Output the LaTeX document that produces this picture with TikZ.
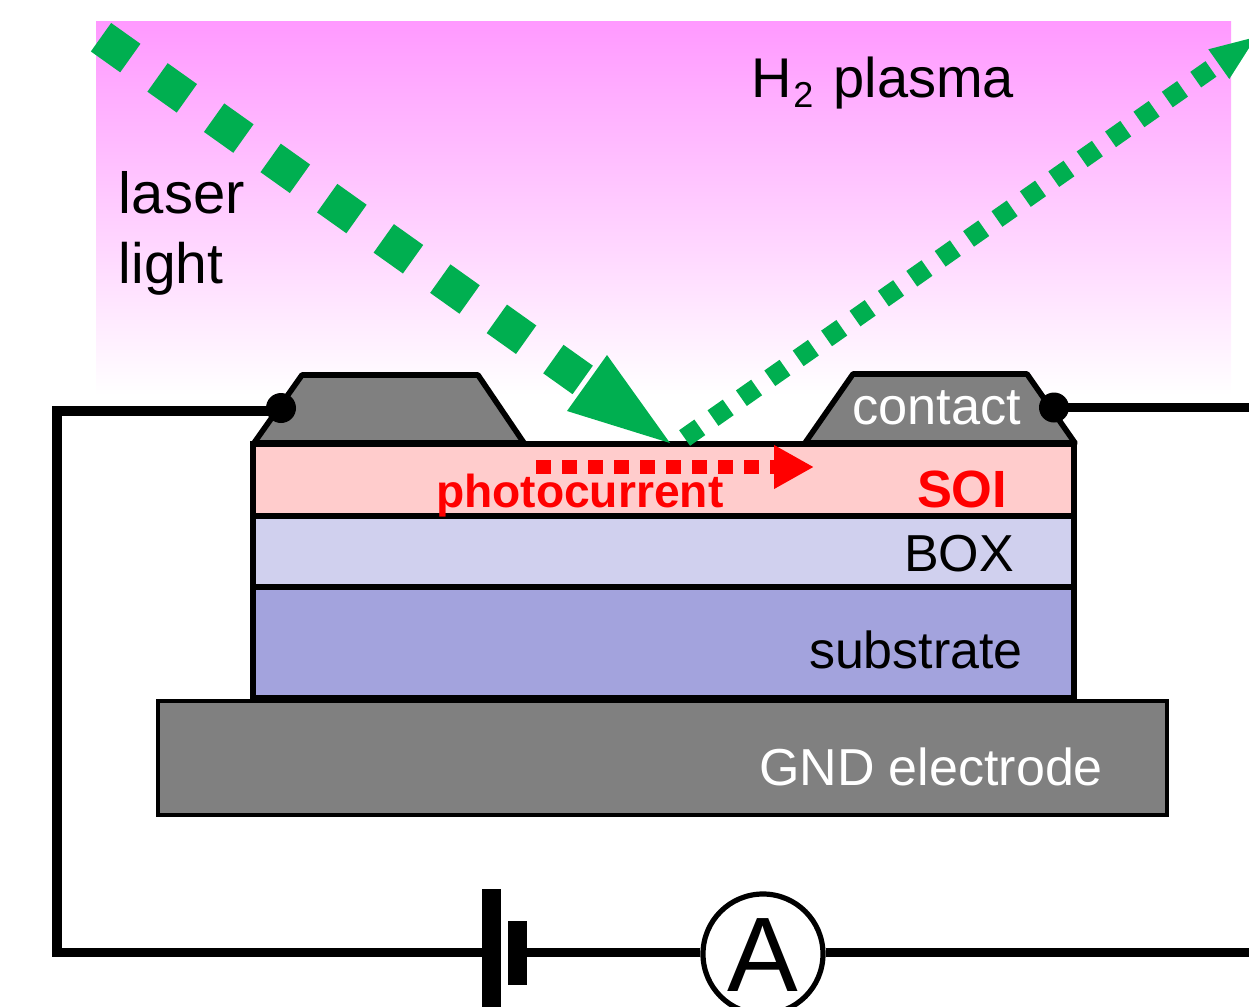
\documentclass[tikz,border=0pt]{standalone}
\usepackage{fontspec}
\setmainfont{Liberation Sans}
\usetikzlibrary{arrows.meta}
\definecolor{beam}{HTML}{00AF50}
\definecolor{plasmatop}{HTML}{FF99FF}
\definecolor{soicol}{HTML}{FFCCCC}
\definecolor{boxcol}{HTML}{D0D0EE}
\definecolor{subcol}{HTML}{A3A3DD}
\definecolor{metal}{HTML}{808080}
\pgfdeclareverticalshading{plasmashade}{100bp}{color(0bp)=(white);color(25bp)=(white);color(75bp)=(plasmatop);color(100bp)=(plasmatop)}
\newcommand{\fs}[1]{\fontsize{#1}{#1}\selectfont}
\tikzset{
  lbl/.style={anchor=base west,inner sep=0pt,outer sep=0pt},
  layer/.style={draw=black,line width=2.6pt,line join=miter},
  contactpad/.style={draw=black,fill=metal,line width=2.8pt,line join=round},
  wire/.style={draw=black,line width=4.6pt,line join=miter},
  pin/.style={circle,fill=black,inner sep=0pt,minimum size=15pt},
  plate/.style={fill=black,inner sep=0pt,outer sep=0pt},
  meter/.style={circle,draw=black,fill=white,line width=2.6pt,inner sep=0pt,minimum size=60pt},
  inbeam/.style={draw=beam,line width=17.5pt,dash pattern=on 18pt off 16.7pt},
  outbeam/.style={draw=beam,line width=9.5pt,dash pattern=on 9.3pt off 8.04pt},
  current/.style={draw=red,line width=7pt,dash pattern=on 7.5pt off 5.5pt,-{Triangle[length=20pt,width=20.5pt,fill=red]}},
}
\begin{document}
\begin{tikzpicture}[x=0.5pt,y=-0.5pt]
\useasboundingbox (0,0) rectangle (1249,1007);
\clip (0,0) rectangle (1249,1007);
% plasma
\shade[shading=plasmashade] (96,21) rectangle (1231,395);
% layers
\draw[layer,fill=subcol] (253,587) rectangle (1074,698);
\draw[layer,fill=boxcol] (253,516) rectangle (1074,587);
\draw[layer,fill=soicol] (253,444) rectangle (1074,516);
\draw[fill=metal,draw=black,line width=2.2pt] (158,701) rectangle (1167,815);
% contacts
\draw[contactpad] (254,443) -- (302,375) -- (478,375) -- (524,443) -- cycle;
\draw[contactpad] (805,443) -- (853,374) -- (1027,374) -- (1075,443) -- cycle;
% circuit
\coordinate (wireL) at (281,411);
\coordinate (cornerT) at (57,411);
\coordinate (cornerB) at (57,952.5);
\coordinate (rightT) at (1249,407.5);
\coordinate (rightB) at (1249,952.5);
\node[pin] (pinL) at (281,408) {};
\node[pin] (pinR) at (1054,407.5) {};
\node[plate,minimum width=9.5pt,minimum height=64pt] (plateL) at (491.5,952.5) {};
\node[plate,minimum width=9.5pt,minimum height=32pt] (plateS) at (517.5,952.5) {};
\node[meter] (amp) at (763,954) {};
\node[inner sep=0pt,font=\fs{53}] (ampA) at (763,955) {A};
\draw[wire] (wireL) -- (cornerT) -- (cornerB) -- (plateL.center);
\draw[wire] (plateS.center) -- (plateS.center -| amp.west);
\draw[wire] (amp.east |- rightB) -- (rightB);
\draw[wire] (pinR.center) -- (rightT);
% beams
\coordinate (inStart) at (101,37.2);
\coordinate (inBase) at (587,383);
\coordinate (inA) at (607,355);
\coordinate (inB) at (567,411);
\coordinate (inTip) at (670,443);
\coordinate (outStart) at (684.6,438);
\coordinate (outBase) at (1218,64);
\coordinate (outA) at (1208.3,49.3);
\coordinate (outB) at (1229.3,79);
\coordinate (outTip) at (1256,37);
\draw[inbeam] (inStart) -- (inBase);
\fill[beam] (inA) -- (inTip) -- (inB) -- cycle;
\draw[outbeam] (outStart) -- (outBase);
\fill[beam] (outA) -- (outTip) -- (outB) -- cycle;
% photocurrent
\coordinate (curStart) at (536,467);
\coordinate (curTip) at (814,467);
\draw[current] (curStart) -- (curTip);
% labels
\node[lbl,font=\fs{29}] (laser) at (119,213) {laser};
\node[lbl,font=\fs{28.5}] (light) at (119,283) {light};
\node[lbl,font=\fs{28}] (plasma) at (751,97) {H\hspace{1pt}\raisebox{-5pt}{\fs{18}2}\hspace{10pt}plasma};
\node[lbl,font=\fs{26.2},text=white] (contact) at (852,424) {contact};
\node[lbl,text=red,font=\bfseries\fs{26.2}] (soi) at (917,507) {SOI};
\node[lbl,font=\bfseries\fs{23.1},text=red] (photo) at (436,507) {photocurrent};
\node[lbl,font=\fs{26}] (box) at (904,571.5) {BOX};
\node[lbl,font=\fs{26}] (substrate) at (809,668) {substrate};
\node[lbl,font=\fs{26},text=white] (gnd) at (759,785) {GND electrode};
\end{tikzpicture}
\end{document}
